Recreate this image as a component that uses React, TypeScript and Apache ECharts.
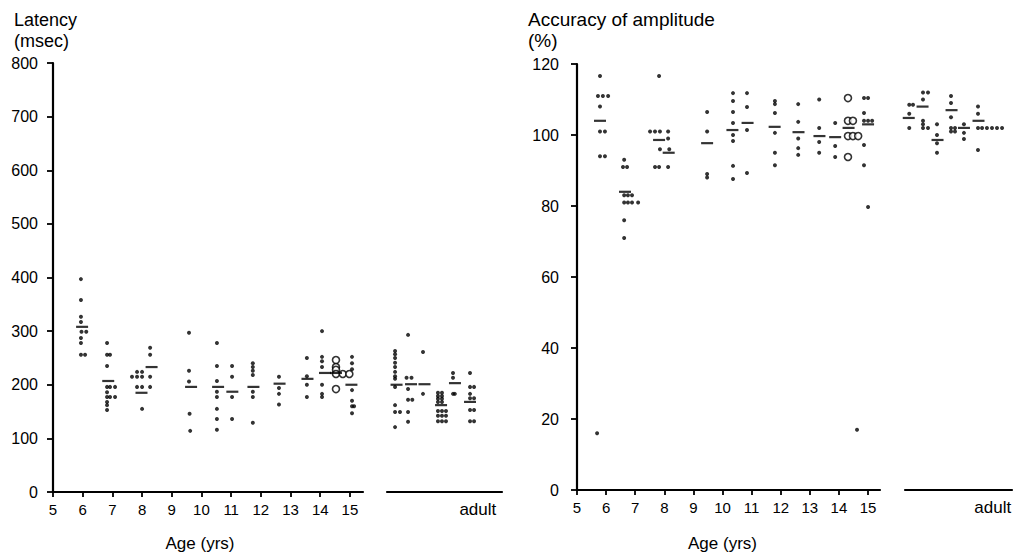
import React, { useEffect, useRef } from "react";
import * as echarts from "echarts";

const FONT = "'Liberation Sans', Arial, Helvetica, sans-serif";
const INK = "#000";

// x tick values for the children axes
const ageTicks = [5, 6, 7, 8, 9, 10, 11, 12, 13, 14, 15];

// ---------- Latency (msec) : children, [age, value] ----------
const latencyChildDots: number[][] = [
  [5.94, 397], [5.94, 358], [5.94, 327], [5.94, 317], [5.96, 299], [6.12, 299], [5.94, 287], [5.94, 278], [5.94, 256], [6.08, 256],
  [6.82, 278], [6.82, 256], [6.92, 256], [6.82, 235], [6.82, 196], [6.92, 196], [7.09, 196], [6.82, 186], [6.82, 177], [6.92, 177], [7.09, 177], [6.82, 168], [6.82, 162], [6.82, 153],
  [7.83, 224], [8.0, 224], [7.66, 215], [7.83, 215], [8.0, 215], [7.83, 196], [8.0, 196], [8.0, 155],
  [8.27, 269], [8.27, 256], [8.27, 215], [8.27, 196],
  [9.58, 297], [9.58, 226], [9.58, 206], [9.6, 146], [9.62, 114],
  [10.52, 278], [10.52, 235], [10.52, 207], [10.52, 187], [10.52, 177], [10.52, 155], [10.52, 136], [10.52, 116],
  [11.03, 235], [11.03, 215], [11.03, 177], [11.03, 136],
  [11.73, 240], [11.73, 233], [11.73, 226], [11.73, 218], [11.73, 187], [11.73, 177], [11.73, 129],
  [12.61, 215], [12.61, 194], [12.61, 183], [12.61, 163],
  [13.55, 250], [13.55, 216], [13.55, 200], [13.55, 177],
  [14.06, 300], [14.06, 252], [14.06, 244], [14.06, 233], [14.06, 200], [14.06, 183], [14.06, 177],
  [15.07, 252], [15.07, 240], [15.07, 229], [15.07, 190], [15.07, 170], [15.07, 160], [15.14, 160], [15.07, 147],
];
const latencyChildCircles: number[][] = [
  [14.53, 246], [14.53, 233], [14.53, 228], [14.53, 220], [14.76, 220], [14.98, 220], [14.53, 192],
];
const latencyChildMeans: number[][] = [
  [5.98, 308], [6.86, 207], [7.98, 185], [8.32, 233], [9.65, 196], [10.56, 196], [11.04, 187],
  [11.75, 196], [12.63, 202], [13.57, 211], [14.16, 222], [14.53, 222], [15.05, 200],
];
// ---------- Latency : adults, [column position, value] ----------
const latencyAdultDots: number[][] = [
  [0.7, 263], [0.7, 257], [0.7, 250], [0.7, 241], [0.7, 233], [0.7, 224], [0.7, 216], [0.7, 211], [0.7, 196], [0.7, 162], [0.7, 149], [1.13, 149], [0.7, 121],
  [1.83, 293], [1.7, 213], [2.13, 213], [1.83, 192], [1.83, 172], [2.2, 172], [1.83, 149], [1.83, 131],
  [3.13, 261], [3.13, 183],
  [4.43, 185], [4.78, 185], [4.43, 179], [4.78, 179], [4.43, 174], [4.78, 174], [4.43, 168], [4.78, 168],
  [4.43, 151], [4.78, 151], [5.13, 151], [4.43, 142], [4.78, 142], [5.13, 142], [4.43, 132], [4.78, 132], [5.13, 132],
  [5.74, 222], [5.74, 213], [5.74, 183], [5.9, 183],
  [7.22, 222], [7.22, 196], [7.57, 196], [7.22, 183], [7.22, 175], [7.57, 175], [7.22, 153], [7.57, 153], [7.22, 132], [7.57, 132],
];
const latencyAdultMeans: number[][] = [
  [0.83, 200], [2.09, 201], [3.26, 201], [4.7, 162], [5.91, 203], [7.22, 168],
];

// ---------- Accuracy of amplitude (%) : children ----------
const accChildDots: number[][] = [
  [5.69, 16],
  [5.79, 116.6], [5.72, 111], [5.89, 111], [6.07, 111], [5.79, 108], [5.79, 101], [5.96, 101], [5.79, 94], [5.96, 94],
  [6.62, 93], [6.58, 91], [6.72, 91], [6.62, 83], [6.75, 83], [6.89, 83], [6.62, 81], [6.75, 81], [6.89, 81], [7.1, 81], [6.62, 76], [6.62, 71],
  [7.82, 116.6], [7.51, 101], [7.68, 101], [7.85, 101], [7.85, 96], [7.68, 91], [7.82, 91],
  [8.13, 101], [8.13, 99], [8.17, 96], [8.13, 91],
  [9.47, 106.5], [9.47, 101], [9.47, 89], [9.47, 88],
  [10.36, 111.8], [10.36, 109.6], [10.36, 106.5], [10.36, 103.4], [10.36, 100], [10.36, 98.3], [10.36, 91.3], [10.36, 87.6],
  [10.84, 111.8], [10.84, 107.9], [10.84, 101.4], [10.84, 89.3],
  [11.8, 109.6], [11.8, 108.7], [11.8, 106.2], [11.8, 100.6], [11.8, 95], [11.8, 91.5],
  [12.6, 108.7], [12.6, 103.7], [12.6, 99], [12.6, 96.3], [12.6, 94.4],
  [13.32, 110], [13.32, 102], [13.32, 98], [13.32, 95],
  [13.87, 103.4], [13.87, 96.9], [13.87, 93.8],
  [14.62, 17],
  [14.86, 110.4], [15.0, 110.4], [14.86, 106.2], [14.86, 104], [15.0, 104], [15.14, 104], [14.86, 97.2], [14.86, 91.5], [15.0, 79.7],
];
const accChildCircles: number[][] = [
  [14.31, 110.4], [14.31, 104], [14.48, 104], [14.31, 99.7], [14.48, 99.7], [14.66, 99.7], [14.31, 93.8],
];
const accChildMeans: number[][] = [
  [5.79, 104], [6.65, 84], [7.82, 98.6], [8.15, 95], [9.47, 97.7], [10.34, 101.4], [10.86, 103.4],
  [11.79, 102.3], [12.61, 100.8], [13.33, 99.7], [13.87, 99.4], [14.33, 102], [15.0, 103],
];
// ---------- Accuracy : adults ----------
const accAdultDots: number[][] = [
  [0.4, 108.5], [0.75, 108.5], [0.4, 106], [0.4, 102],
  [1.68, 112], [2.15, 112], [1.68, 110], [1.68, 104], [1.68, 103], [1.68, 102], [2.15, 102],
  [2.99, 103], [2.99, 100], [2.99, 97.7], [2.99, 95],
  [4.3, 111], [4.3, 109], [4.3, 105], [4.3, 102], [4.67, 102], [4.3, 101], [4.67, 101],
  [5.51, 103], [5.51, 100.6], [5.51, 98.9],
  [6.82, 108], [6.82, 106], [6.82, 102], [7.2, 102], [7.66, 102], [8.13, 102], [8.6, 102], [9.07, 102], [6.82, 95.8],
];
const accAdultMeans: number[][] = [
  [0.35, 104.8], [1.64, 108], [3.04, 98.6], [4.35, 107], [5.51, 102], [6.87, 104],
];

const adultLabelPos = [[7.9], [8.2]];

export default function App() {
  const ref = useRef<HTMLDivElement>(null);

  useEffect(() => {
    if (!ref.current) return;
    const chart = echarts.init(ref.current, undefined, { renderer: "svg" });

    const axisLine = { show: true, onZero: false, lineStyle: { color: INK, width: 2.2 } };
    const tick = { show: true, length: 6, lineStyle: { color: INK, width: 1.8 } };
    const labelStyle = { color: INK, fontFamily: FONT };

    const childX = (grid: number, max: number, gap: number, pad: number[]) => ({
      type: "value",
      gridIndex: grid,
      min: 5,
      max,
      axisLine,
      axisTick: { ...tick, length: 5, customValues: ageTicks },
      axisLabel: { ...labelStyle, fontSize: 15, margin: 10, customValues: ageTicks },
      splitLine: { show: false },
      name: "Age (yrs)",
      nameLocation: "middle",
      nameGap: gap,
      nameTextStyle: { ...labelStyle, fontSize: 17, padding: pad },
    });
    const adultX = (grid: number, pos: number[]) => ({
      type: "value",
      gridIndex: grid,
      min: 0,
      max: 10,
      axisLine,
      axisTick: { show: false },
      axisLabel: { ...labelStyle, fontSize: 17, margin: 9, customValues: pos, formatter: () => "adult" },
      splitLine: { show: false },
    });

    const dots = (x: number, y: number, data: number[][]) => ({
      type: "scatter", xAxisIndex: x, yAxisIndex: y, data,
      symbol: "circle", symbolSize: 4, itemStyle: { color: INK }, silent: true,
    });
    const circles = (x: number, y: number, data: number[][]) => ({
      type: "scatter", xAxisIndex: x, yAxisIndex: y, data,
      symbol: "circle", symbolSize: 7,
      itemStyle: { color: "#fff", borderColor: INK, borderWidth: 1.6 }, silent: true,
    });
    const means = (x: number, y: number, data: number[][]) => ({
      type: "scatter", xAxisIndex: x, yAxisIndex: y, data,
      symbol: "rect", symbolSize: [12, 2.2], itemStyle: { color: INK }, silent: true, z: 3,
    });

    const grid = (left: number, top: number, width: number, height: number) => ({
      left, top, width, height, containLabel: false, outerBoundsMode: "none",
    });

    chart.setOption({
      animation: false,
      backgroundColor: "#fff",
      textStyle: { fontFamily: FONT },
      title: [
        {
          text: "Latency\n(msec)", left: 9, top: 4,
          textStyle: { color: INK, fontFamily: FONT, fontSize: 18, fontWeight: "normal", lineHeight: 21 },
        },
        {
          text: "Accuracy of amplitude\n(%)", left: 523, top: 4,
          textStyle: { color: INK, fontFamily: FONT, fontSize: 19, fontWeight: "normal", lineHeight: 21 },
        },
      ],
      grid: [
        grid(53, 63, 310, 429),
        grid(387, 63, 115, 429),
        grid(577, 64, 303, 426),
        grid(905, 64, 107, 426),
      ],
      xAxis: [
        childX(0, 15.44, 43, [0, 16, 0, 0]),
        adultX(1, adultLabelPos[0]),
        childX(2, 15.41, 45, [0, 12, 0, 0]),
        adultX(3, adultLabelPos[1]),
      ],
      yAxis: [
        {
          type: "value", gridIndex: 0, min: 0, max: 800, interval: 100,
          axisLine, axisTick: tick,
          axisLabel: { ...labelStyle, fontSize: 16, margin: 15 },
          splitLine: { show: false },
        },
        { type: "value", gridIndex: 1, min: 0, max: 800, show: false },
        {
          type: "value", gridIndex: 2, min: 0, max: 120, interval: 20,
          axisLine, axisTick: tick,
          axisLabel: { ...labelStyle, fontSize: 16, margin: 18 },
          splitLine: { show: false },
        },
        { type: "value", gridIndex: 3, min: 0, max: 120, show: false },
      ],
      series: [
        dots(0, 0, latencyChildDots),
        circles(0, 0, latencyChildCircles),
        means(0, 0, latencyChildMeans),
        dots(1, 1, latencyAdultDots),
        means(1, 1, latencyAdultMeans),
        dots(2, 2, accChildDots),
        circles(2, 2, accChildCircles),
        means(2, 2, accChildMeans),
        dots(3, 3, accAdultDots),
        means(3, 3, accAdultMeans),
      ],
    });

    return () => chart.dispose();
  }, []);

  return (
    <div
      ref={ref}
      style={{ position: "absolute", left: 0, top: 0, width: 1020, height: 555, background: "#fff" }}
    />
  );
}
